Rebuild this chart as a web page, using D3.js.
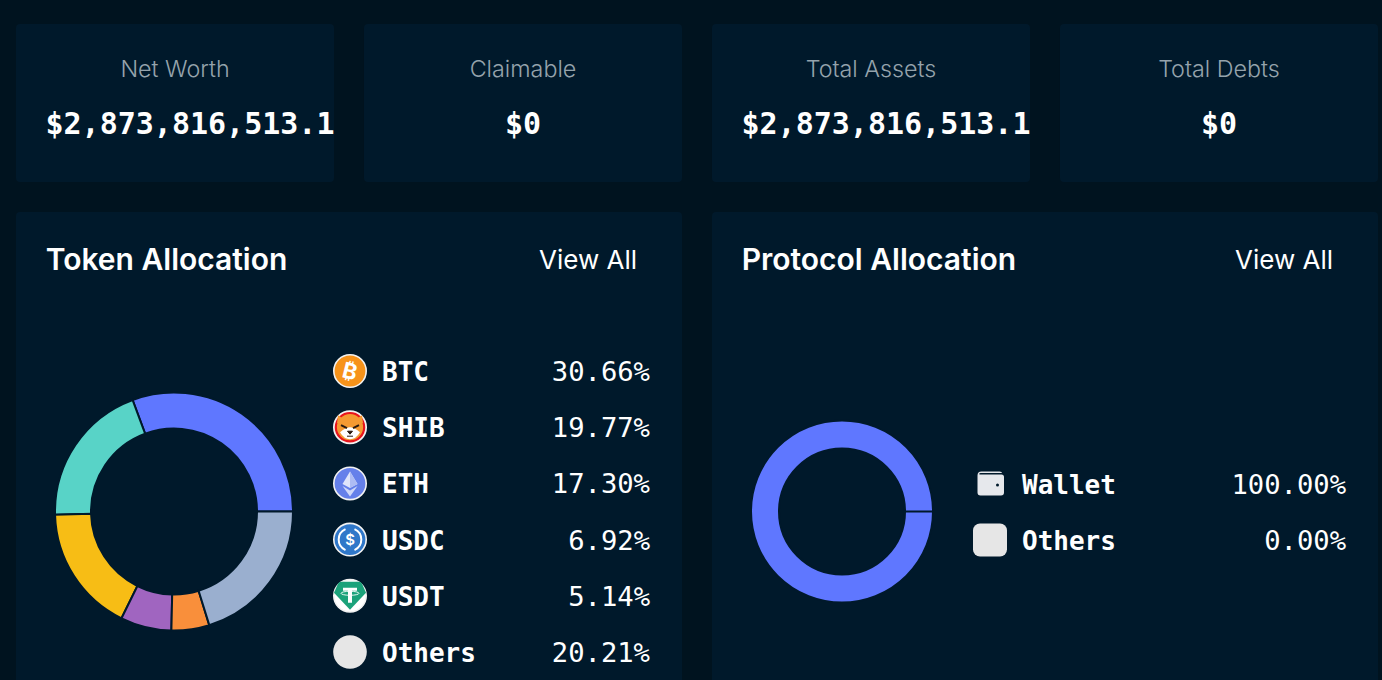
<!DOCTYPE html>
<html><head><meta charset="utf-8">
<script src="https://cdn.jsdelivr.net/npm/d3@7/dist/d3.min.js"></script>
<style>
html,body{margin:0;padding:0;background:#00131f;overflow:hidden}
svg{display:block}
.sans{font-family:Inter,"Noto Sans",sans-serif}
.mono{font-family:"DejaVu Sans Mono","Liberation Mono",monospace}
</style></head><body>
<svg id="c" width="1382" height="680"></svg>
<script>
const statLabels = ["Net Worth","Claimable","Total Assets","Total Debts"];
const statValues = ["$2,873,816,513.1","$0","$2,873,816,513.1","$0"];
const tokenNames = ["BTC","SHIB","ETH","USDC","USDT","Others"];
const tokenShares = [30.66,19.77,17.30,6.92,5.14,20.21];
const tokenColors = ["#5f77ff","#58d3c7","#f7bd15","#a065c0","#f98f3b","#9aafcf"];
const protocolNames = ["Wallet","Others"];
const protocolShares = [100.00,0.00];
const protocolColors = ["#5f77ff","#9aafcf"];
const panelTitles = ["Token Allocation","Protocol Allocation"];
const viewAll = "View All";

const svg = d3.select("#c");
const cardFill = "#00192b";
const defs = svg.append("defs");

// stat cards
const statX = d3.scaleBand().domain(statLabels).range([16,1378]).paddingInner(0.0862).paddingOuter(0);
statLabels.forEach((l,i)=>{
  const x = statX(l), w = statX.bandwidth();
  defs.append("clipPath").attr("id","clip"+i).append("rect").attr("x",x).attr("y",24).attr("width",w).attr("height",158);
  svg.append("rect").attr("x",x).attr("y",24).attr("width",w).attr("height",158).attr("rx",4).attr("fill",cardFill);
  svg.append("text").attr("class","sans").attr("x",x+w/2).attr("y",77).attr("text-anchor","middle")
    .attr("font-size",23.3).attr("font-weight",300).attr("fill","#95a3ac").text(l);
  svg.append("g").attr("clip-path",`url(#clip${i})`).append("text").attr("class","mono")
    .attr("x",statValues[i].length>5 ? x+29.5 : x+w/2).attr("y",134)
    .attr("text-anchor",statValues[i].length>5?"start":"middle")
    .attr("font-size",30).attr("font-weight",700).attr("fill","#fff").text(statValues[i]);
});

// panels
const panelX = [16,712], panelW = 666;
panelTitles.forEach((t,i)=>{
  svg.append("rect").attr("x",panelX[i]).attr("y",212).attr("width",panelW).attr("height",480).attr("rx",4).attr("fill",cardFill);
  svg.append("text").attr("class","sans").attr("x",panelX[i]+29.7).attr("y",270)
    .attr("font-size",30).attr("font-weight",600).attr("fill","#fff").text(t);
  svg.append("text").attr("class","sans").attr("x",panelX[i]+621).attr("y",269).attr("text-anchor","end")
    .attr("font-size",26).attr("font-weight",400).attr("fill","#fff").text(viewAll);
});

function donut(cx,cy,rO,rI,values,colors){
  const pie = d3.pie().sort(null).startAngle(Math.PI/2).endAngle(Math.PI/2-2*Math.PI);
  const arc = d3.arc().innerRadius(rI).outerRadius(rO);
  svg.append("g").attr("transform",`translate(${cx},${cy})`)
    .selectAll("path").data(pie(values)).join("path")
    .attr("d",arc).attr("fill",(d,i)=>colors[i]).attr("stroke",cardFill).attr("stroke-width",2);
}
donut(174,511.5,119,83,tokenShares,tokenColors);
donut(842,511.5,91,63,protocolShares,protocolColors);

// legend helpers
const fmt = d3.format(".2f");
function legendText(names,shares,y,xName,xVal){
  names.forEach((n,i)=>{
    svg.append("text").attr("class","mono").attr("x",xName).attr("y",y(n)+10)
      .attr("font-size",26).attr("font-weight",700).attr("fill","#fff").text(n);
    svg.append("text").attr("class","mono").attr("x",xVal).attr("y",y(n)+10).attr("text-anchor","end")
      .attr("font-size",27.2).attr("font-weight",400).attr("fill","#fff").text(fmt(shares[i])+"%");
  });
}
const yTok = d3.scalePoint().domain(tokenNames).range([371,652]);
legendText(tokenNames,tokenShares,yTok,382,650);
const yPro = d3.scalePoint().domain(protocolNames).range([484,540]);
legendText(protocolNames,protocolShares,yPro,1022,1346);

// token icons
const icon = n => svg.append("g").attr("transform",`translate(350,${yTok(n)})`);
const ring = (g,c)=>g.append("circle").attr("r",16.2).attr("fill",c).attr("stroke","#f2f2f2").attr("stroke-width",1.6);
let g = icon("BTC"); ring(g,"#f7931a");
g.append("text").attr("class","sans").attr("text-anchor","middle").attr("y",8).attr("font-size",22).attr("font-weight",700).attr("fill","#fff").attr("transform","rotate(14)").text("₿");

g = icon("SHIB"); ring(g,"#fff");
g.append("circle").attr("r",14.2).attr("fill","#f59a32").attr("stroke","#e8141c").attr("stroke-width",2.2);
g.append("path").attr("d","M-13,-4 L-12,-12 L-6,-8 Q0,-10 6,-8 L12,-12 L13,-4 Z").attr("fill","#f59a32");
g.append("path").attr("d","M-10,5 Q-4,0 0,0 Q4,0 10,5 Q6,12 0,12 Q-6,12 -10,5Z").attr("fill","#fff");
g.append("path").attr("d","M-9,-2 L-3,1 M9,-2 L3,1").attr("stroke","#2a1a10").attr("stroke-width",2);
g.append("path").attr("d","M-2.5,4 H2.5 L0,7Z M-3,9 H3").attr("fill","#2a1a10").attr("stroke","#2a1a10").attr("stroke-width",1);

g = icon("ETH"); ring(g,"#6580ea");
g.append("path").attr("d","M0,-12 L-7.5,0.5 L0,4.5 L7.5,0.5Z").attr("fill","#dfe5fb");
g.append("path").attr("d","M0,-12 L7.5,0.5 L0,4.5Z").attr("fill","#aebcf4");
g.append("path").attr("d","M-7.5,2.5 L0,7 L7.5,2.5 L0,13Z").attr("fill","#cfd8f9");

g = icon("USDC"); ring(g,"#2f77c9");
g.append("path").attr("d","M-4.5,-10.5 A11.5,11.5 0 0 0 -4.5,10.5 M4.5,-10.5 A11.5,11.5 0 0 1 4.5,10.5").attr("fill","none").attr("stroke","#fff").attr("stroke-width",2);
g.append("text").attr("class","sans").attr("text-anchor","middle").attr("y",5.5).attr("font-size",15).attr("font-weight",600).attr("fill","#fff").text("$");

g = icon("USDT"); ring(g,"#fff");
g.append("path").attr("d","M-9,-14 L9,-14 Q11,-14 12,-12 L16,-3 L0,14 L-16,-3 L-12,-12 Q-11,-14 -9,-14Z").attr("fill","#1ba27a");
g.append("path").attr("d","M-7,-8 H7 V-5 H2 V7 H-2 V-5 H-7Z").attr("fill","#fff");
g.append("ellipse").attr("cy",-2.5).attr("rx",9).attr("ry",2).attr("fill","none").attr("stroke","#fff").attr("stroke-width",0.9);

svg.append("circle").attr("cx",350).attr("cy",yTok("Others")).attr("r",16.8).attr("fill","#e6e6e6");

// protocol icons
const gw = svg.append("g").attr("transform",`translate(990.5,${yPro("Wallet")-0.5})`);
gw.append("path").attr("d","M-13,-8 Q-13,-12 -9,-12 H9 Q11.5,-12 11.5,-10.5 H-10 Q-12,-10.5 -11,-9 H11 Q13.5,-9 13.5,-6.5 V9 Q13.5,12 10.5,12 H-10 Q-13,12 -13,9Z").attr("fill","#e6e8ec");
gw.append("circle").attr("cx",7).attr("cy",1.5).attr("r",1.5).attr("fill",cardFill);
svg.append("rect").attr("x",973).attr("y",yPro("Others")-16.5).attr("width",34).attr("height",33).attr("rx",7).attr("fill","#e6e6e6");
</script>
</body></html>
